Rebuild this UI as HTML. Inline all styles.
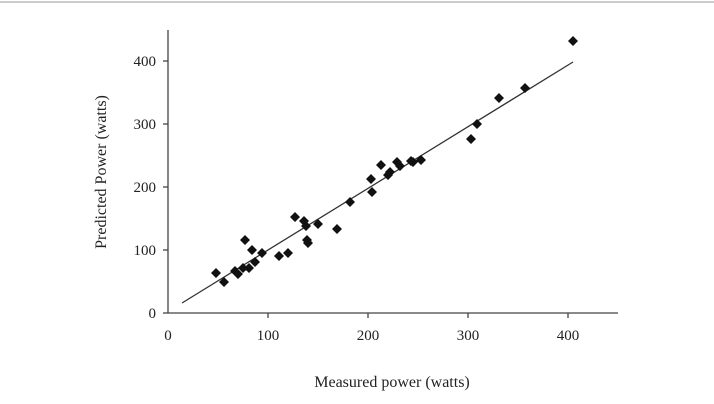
<!DOCTYPE html>
<html><head><style>body{margin:0;background:#fff}svg{display:block}</style></head><body>
<svg width="714" height="404" xmlns="http://www.w3.org/2000/svg" font-family="Liberation Serif, serif" font-size="15" fill="#222">
<line x1="0" y1="2" x2="714" y2="2" stroke="#ccc" stroke-width="2"/>
<g stroke="#444" stroke-width="1.3" fill="none">
<line x1="168" y1="30" x2="168" y2="313"/>
<line x1="168" y1="313" x2="618" y2="313"/>
<line x1="163" y1="61" x2="168" y2="61"/><line x1="163" y1="124" x2="168" y2="124"/><line x1="163" y1="187" x2="168" y2="187"/><line x1="163" y1="250" x2="168" y2="250"/><line x1="163" y1="313" x2="168" y2="313"/>
<line x1="268" y1="313" x2="268" y2="318"/><line x1="368" y1="313" x2="368" y2="318"/><line x1="468" y1="313" x2="468" y2="318"/><line x1="568" y1="313" x2="568" y2="318"/>
<line x1="182" y1="303" x2="573" y2="62" stroke="#333"/>
</g>
<g text-anchor="end"><text x="156" y="66">400</text><text x="156" y="129">300</text><text x="156" y="192">200</text><text x="156" y="255">100</text><text x="156" y="318">0</text></g>
<g text-anchor="middle"><text x="168" y="340">0</text><text x="268" y="340">100</text><text x="368" y="340">200</text><text x="468" y="340">300</text><text x="568" y="340">400</text>
<text x="392" y="387" font-size="16">Measured power (watts)</text>
<text transform="translate(106,172) rotate(-90)" font-size="16">Predicted Power (watts)</text></g>
<g fill="#111">
<script>/*placeholder*/</script>
<path d="M216,268l5,5l-5,5l-5,-5zM224,277l5,5l-5,5l-5,-5zM235,266l5,5l-5,5l-5,-5zM238,269l5,5l-5,5l-5,-5zM245,235l5,5l-5,5l-5,-5zM243,263l5,5l-5,5l-5,-5zM249,263l5,5l-5,5l-5,-5zM252,245l5,5l-5,5l-5,-5zM255,257l5,5l-5,5l-5,-5zM262,248l5,5l-5,5l-5,-5zM279,251l5,5l-5,5l-5,-5zM288,248l5,5l-5,5l-5,-5zM295,212l5,5l-5,5l-5,-5zM304,216l5,5l-5,5l-5,-5zM306,221l5,5l-5,5l-5,-5zM307,235l5,5l-5,5l-5,-5zM308,238l5,5l-5,5l-5,-5zM318,219l5,5l-5,5l-5,-5zM337,224l5,5l-5,5l-5,-5zM350,197l5,5l-5,5l-5,-5zM371,174l5,5l-5,5l-5,-5zM372,187l5,5l-5,5l-5,-5zM381,160l5,5l-5,5l-5,-5zM388,170l5,5l-5,5l-5,-5zM390,167l5,5l-5,5l-5,-5zM397,157l5,5l-5,5l-5,-5zM400,161l5,5l-5,5l-5,-5zM411,156l5,5l-5,5l-5,-5zM413,157l5,5l-5,5l-5,-5zM421,155l5,5l-5,5l-5,-5zM471,134l5,5l-5,5l-5,-5zM477,119l5,5l-5,5l-5,-5zM499,93l5,5l-5,5l-5,-5zM525,83l5,5l-5,5l-5,-5zM573,36l5,5l-5,5l-5,-5z"/>
</g>
</svg>
</body></html>
